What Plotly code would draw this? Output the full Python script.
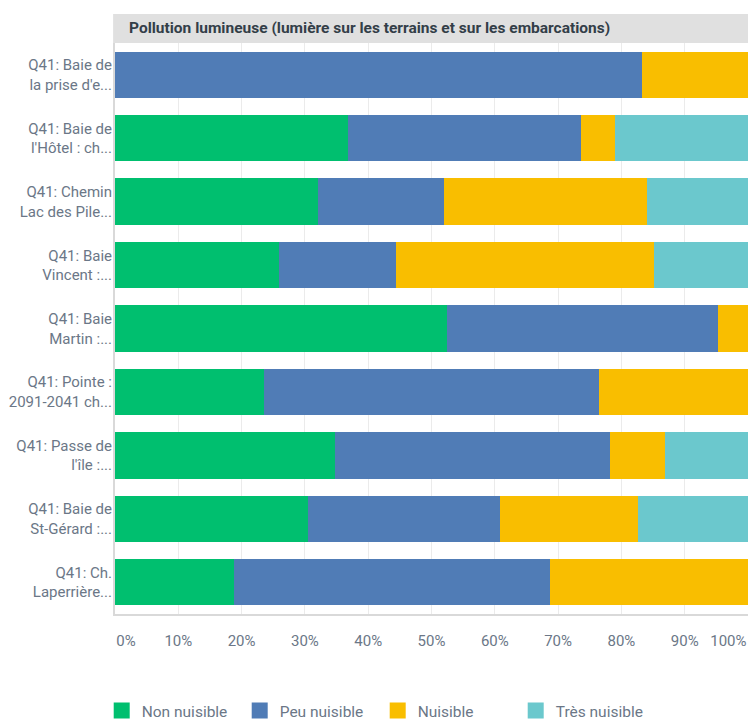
import plotly.graph_objects as go

categories = [
    "Q41: Baie de<br>la prise d'e...",
    "Q41: Baie de<br>l'Hôtel : ch...",
    "Q41: Chemin<br>Lac des Pile...",
    "Q41: Baie<br>Vincent :...",
    "Q41: Baie<br>Martin :...",
    "Q41: Pointe :<br>2091-2041 ch...",
    "Q41: Passe de<br>l'île :...",
    "Q41: Baie de<br>St-Gérard :...",
    "Q41: Ch.<br>Laperrière...",
]

series_names = ["Non nuisible", "Peu nuisible", "Nuisible", "Très nuisible"]
non_nuisible = [0.0, 36.84, 32.0, 25.93, 52.38, 23.53, 34.78, 30.43, 18.75]
peu_nuisible = [83.33, 36.84, 20.0, 18.52, 42.86, 52.94, 43.48, 30.43, 50.0]
nuisible = [16.67, 5.26, 32.0, 40.74, 4.76, 23.53, 8.70, 21.74, 31.25]
tres_nuisible = [0.0, 21.05, 16.0, 14.81, 0.0, 0.0, 13.04, 17.39, 0.0]

tick_text = ["0%", "10%", "20%", "30%", "40%", "50%", "60%", "70%", "80%", "90%", "100%"]
tick_vals = [1.74, 10, 20, 30, 40, 50, 60, 70, 80, 90, 96.9]

title_text = "Pollution lumineuse (lumière sur les terrains et sur les embarcations)"

colors = ["#00BF6F", "#507CB6", "#F9BE00", "#6BC8CD"]
values = [non_nuisible, peu_nuisible, nuisible, tres_nuisible]

fig = go.Figure()
for name, vals, col in zip(series_names, values, colors):
    fig.add_trace(go.Bar(
        y=categories, x=vals, name=name, orientation="h",
        marker=dict(color=col, line=dict(width=0)),
        hovertemplate="%{x:.2f}%<extra>" + name + "</extra>",
        showlegend=False, legendgroup=name,
    ))
for name, col in zip(series_names, colors):
    fig.add_trace(go.Scatter(
        x=[None], y=[None], mode="markers", name=name, legendgroup=name,
        marker=dict(symbol="square", size=16, color=col), showlegend=True,
    ))

W, H = 750, 723
ml, mr, mt, mb = 115, 2, 43, 109
plot_h = H - mt - mb

fig.update_layout(
    width=W, height=H,
    barmode="stack", bargap=0.27,
    margin=dict(l=ml, r=mr, t=mt, b=mb, autoexpand=False),
    paper_bgcolor="white", plot_bgcolor="white",
    font=dict(family="Roboto, 'Open Sans', sans-serif", size=15, color="#6B7787"),
    showlegend=True,
    legend=dict(
        orientation="h", x=-0.021, xanchor="left", y=(614 - 711) / plot_h, yanchor="middle",
        font=dict(size=15.5, color="#6B7787"), traceorder="normal",
        entrywidth=93, itemsizing="trace",
    ),
    xaxis=dict(
        range=[0, 100], tickmode="array", tickvals=tick_vals, ticktext=tick_text,
        showgrid=False, zeroline=False, showline=True, linecolor="#D9D9D9", linewidth=2,
        ticks="outside", ticklen=12, tickcolor="rgba(0,0,0,0)",
        tickfont=dict(size=15, color="#6B7787"), automargin=False,
        minor=dict(tickmode="linear", tick0=0, dtick=10, showgrid=True,
                   gridcolor="#EBEBEB", gridwidth=1, ticks=""),
        fixedrange=True,
    ),
    yaxis=dict(
        autorange="reversed", showgrid=False, zeroline=False,
        showline=True, linecolor="#D9D9D9", linewidth=2,
        ticks="", ticklabelstandoff=-2,
        tickfont=dict(size=15, color="#6B7787"), automargin=False,
        fixedrange=True,
    ),
    shapes=[dict(
        type="rect", xref="paper", yref="paper",
        x0=-0.003, x1=1, y0=1, y1=1 + 29 / plot_h,
        fillcolor="#E0E0E0", line=dict(width=0), layer="below",
    )],
    annotations=[dict(
        text="<b>" + title_text + "</b>", xref="paper", yref="paper",
        x=12 / (W - ml - mr), y=1 + 15 / plot_h, xanchor="left", yanchor="middle",
        showarrow=False, font=dict(size=15.5, color="#333E48"),
    )],
)

fig.write_html(
    "out.html",
    config={"displayModeBar": False},
    post_script="document.body.style.margin='0';document.body.style.overflow='hidden';",
)
